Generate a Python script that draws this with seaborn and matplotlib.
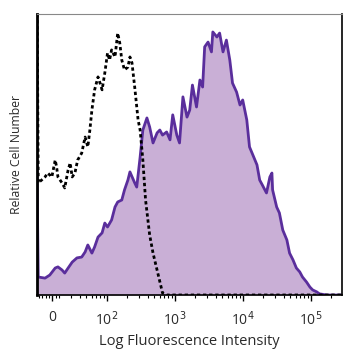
import numpy as np
import pandas as pd
import matplotlib
matplotlib.use("Agg")
import matplotlib.pyplot as plt
import seaborn as sns

# --Data (x in decades, y relative count)--
stained_x = [0.97, 0.99, 1.09, 1.16, 1.24, 1.28, 1.34, 1.38, 1.43, 1.49, 1.56, 1.63,
             1.68, 1.72, 1.78, 1.82, 1.87, 1.93, 1.97, 2.01, 2.07, 2.12, 2.16, 2.22,
             2.26, 2.31, 2.34, 2.41, 2.44, 2.49, 2.53, 2.59, 2.63, 2.68, 2.74, 2.78,
             2.82, 2.88, 2.93, 2.97, 3.03, 3.07, 3.12, 3.18, 3.22, 3.26, 3.32, 3.37,
             3.41, 3.44, 3.49, 3.54, 3.56, 3.62, 3.66, 3.71, 3.76, 3.81, 3.85, 3.91,
             3.96, 4.00, 4.06, 4.10, 4.15, 4.21, 4.25, 4.29, 4.35, 4.40, 4.43, 4.44,
             4.50, 4.54, 4.59, 4.65, 4.69, 4.74, 4.79, 4.84, 4.88, 4.94, 4.99, 5.03,
             5.09, 5.13, 5.24, 5.46]
stained_y = [48.0, 6.4, 6.0, 7.1, 9.6, 10.0, 8.9, 7.8, 9.6, 11.7, 13.2, 13.5,
             15.3, 17.8, 14.9, 17.1, 20.6, 22.1, 25.6, 24.2, 26.7, 31.3, 33.1, 33.8,
             37.4, 40.9, 43.8, 39.9, 38.4, 49.1, 58.7, 63.0, 59.8, 54.1, 57.7, 58.7,
             56.9, 58.0, 55.2, 64.1, 56.9, 54.1, 70.5, 63.3, 65.8, 74.7, 66.9, 76.5,
             74.0, 88.3, 90.0, 86.5, 93.6, 91.8, 93.2, 86.5, 90.7, 83.6, 75.4, 72.2,
             67.6, 69.4, 62.3, 52.7, 49.8, 46.3, 40.9, 39.1, 36.3, 42.0, 43.4, 37.4,
             31.3, 29.2, 23.1, 19.6, 14.9, 12.5, 9.6, 8.2, 6.4, 4.6, 2.8, 1.8,
             1.1, 0.4, 0.0, 0.0]

control_x = [0.975, 0.99, 1.04, 1.09, 1.13, 1.19, 1.24, 1.26, 1.28, 1.34, 1.38, 1.43,
             1.46, 1.49, 1.53, 1.57, 1.63, 1.68, 1.72, 1.75, 1.78, 1.82, 1.87, 1.90,
             1.93, 1.97, 2.01, 2.04, 2.07, 2.12, 2.16, 2.19, 2.22, 2.26, 2.31, 2.34,
             2.37, 2.41, 2.46, 2.49, 2.53, 2.57, 2.63, 2.68, 2.75, 2.82, 2.88, 5.46]
control_y = [100.0, 39.9, 40.9, 42.0, 43.4, 42.0, 48.0, 45.6, 42.0, 39.9, 38.1, 44.5,
             47.0, 42.0, 43.4, 48.0, 50.5, 56.2, 52.7, 58.7, 65.8, 73.0, 77.6, 75.4,
             73.0, 79.0, 86.1, 83.6, 87.2, 84.7, 93.2, 89.7, 83.6, 80.1, 81.1, 84.7,
             82.6, 74.0, 62.3, 58.7, 48.0, 33.8, 21.4, 14.9, 7.8, 0.7, 0.0, 0.0]

tick_pos = [1.2, 2, 3, 4, 5]
tick_labels = ["0", "10$^2$", "10$^3$", "10$^4$", "10$^5$"]

stained = pd.DataFrame({"x": stained_x, "y": stained_y})
control = pd.DataFrame({"x": control_x, "y": control_y})

sns.set_style("white")
plt.rcParams["font.family"] = ["Open Sans", "DejaVu Sans"]

fig = plt.figure(figsize=(3.58, 3.58), dpi=100)
ax = fig.add_axes([0.103, 0.176, 0.852, 0.785])

# -Filled stained histogram
ax.fill_between(stained["x"], stained["y"], color="#c9afd6", lw=0)
sns.lineplot(data=stained, x="x", y="y", ax=ax, color="#5a2e9c", lw=2, sort=False)

# -Dashed control histogram
sns.lineplot(data=control, x="x", y="y", ax=ax, color="black", lw=2,
             linestyle=(0, (1.2, 1.0)), sort=False)

ax.set_xlim(0.97, 5.46)
ax.set_ylim(0, 100)
ax.set_yticks([])
ax.set_xticks(tick_pos)
ax.set_xticklabels(tick_labels, fontsize=10, color="#2a2a2a")

minor = [1.0, 1.05, 1.1, 1.15, 1.25] + [d + np.log10(k) for d in [1, 2, 3, 4] for k in range(2, 10)
                                         if d + np.log10(k) > 1.3] + [5.3]
ax.set_xticks(minor, minor=True)
ax.tick_params(axis="x", which="major", direction="out", length=4, width=1, color="black", pad=7,
               bottom=True)
ax.tick_params(axis="x", which="minor", direction="out", length=2.5, width=0.8, color="black",
               bottom=True)

ax.set_xlabel("Log Fluorescence Intensity", fontsize=10.5, color="#2a2a2a", labelpad=4)
ax.set_ylabel("Relative Cell Number", fontsize=8.8, color="#2a2a2a", labelpad=10)

for side in ["left", "right", "bottom"]:
    ax.spines[side].set_color("black")
    ax.spines[side].set_linewidth(1.2)
ax.spines["left"].set_linewidth(2)
ax.spines["top"].set_color("#888888")
ax.spines["top"].set_linewidth(0.8)

fig.savefig("out.png", dpi=100)
